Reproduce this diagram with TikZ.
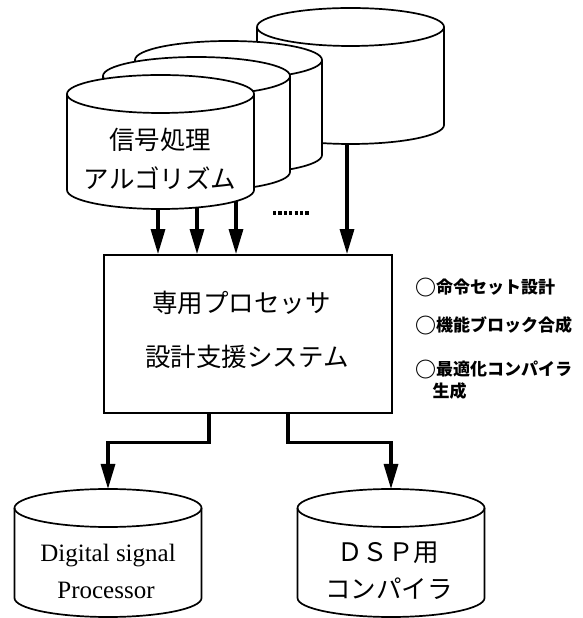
\documentclass[tikz,border=0pt]{standalone}
\usepackage{fontspec}
\setmainfont{Liberation Serif}
\newfontfamily\jp{Noto Sans CJK JP}
\usetikzlibrary{arrows.meta}
\newcommand\cylshape[3]{%
  \filldraw[cylline,fill=white] (#1-93.5,#2) -- (#1-93.5,#2-#3)
    arc[start angle=180,end angle=360,x radius=93.5pt,y radius=19pt]
    -- (#1+93.5,#2)
    arc[start angle=0,end angle=180,x radius=93.5pt,y radius=19pt] -- cycle;
  \draw[cylline] (#1-93.5,#2) arc[start angle=180,end angle=360,x radius=93.5pt,y radius=19pt];
}
\newcommand\notecirc{\raisebox{-1.6pt}{\fontsize{21}{20}\selectfont ○}\hspace{-0.5pt}}
\begin{document}
\begin{tikzpicture}[x=1pt,y=1pt,
  cylline/.style={line width=1.7pt,line join=round},
  arr/.style={line width=3.2pt,-{Triangle[length=25pt,width=14pt]}},
  big/.style={font=\jp\fontsize{25.5}{30}\selectfont,anchor=base,inner sep=0pt},
  lat/.style={font=\fontsize{25}{30}\selectfont,anchor=base,inner sep=0pt},
  note/.style={font=\jp\bfseries\fontsize{17}{20}\selectfont,anchor=base west,inner sep=0pt},
  boxstyle/.style={draw,line width=1.8pt,minimum width=288pt,minimum height=158pt,inner sep=0pt}
]
\useasboundingbox (0,0) rectangle (582,618);
% source cylinders (back to front)
\cylshape{350.5}{591}{98}
\cylshape{228.5}{558}{95}
\cylshape{196.5}{542}{96}
\cylshape{160.5}{524}{96}
\node[big] (sig1) at (160,468.5) {信号処理};
\node[big] (sig2) at (160,429.5) {アルゴリズム};
% named start points on the cylinder bottoms
\coordinate (a1) at (158,409);
\coordinate (a2) at (197,410.5);
\coordinate (a3) at (236,417);
\coordinate (b1) at (347,474);
% system box
\node[boxstyle] (sys) at (248,284) {};
\node[big] (sysA) at (241.5,305.5) {専用プロセッサ};
\node[big] (sysB) at (247,251) {設計支援システム};
% input arrows
\draw[arr] (a1) -- (a1 |- sys.north);
\draw[arr] (a2) -- (a2 |- sys.north);
\draw[arr] (a3) -- (a3 |- sys.north);
\draw[arr] (b1) -- (b1 |- sys.north);
\draw[line width=3.2pt,dash pattern=on 3.2pt off 2.2pt] (273,405) -- (310,405);
% notes
\node[note] (n1) at (415.5,324.5) {\notecirc 命令セット設計};
\node[note] (n2) at (415.5,286.5) {\notecirc 機能ブロック合成};
\node[note] (n3) at (415.5,242.5) {\notecirc 最適化コンパイラ};
\node[note] (n4) at (432.5,220.5) {生成};
% output cylinders
\cylshape{108}{110}{90}
\cylshape{391}{110}{90}
\coordinate (dsp-top) at (108,129);
\coordinate (cmp-top) at (391,129);
\node[lat] (dsp1) at (108,56.5) {Digital signal};
\node[lat] (dsp2) at (106,19) {Processor};
\node[big] (cmp1) at (388,56.8) {ＤＳＰ用};
\node[big] (cmp2) at (389,19.5) {コンパイラ};
% output arrows
\draw[arr] ([xshift=-39pt]sys.south) -- ++(0,-29) -| (dsp-top);
\draw[arr] ([xshift=40pt]sys.south) -- ++(0,-29) -| (cmp-top);
\end{tikzpicture}
\end{document}
